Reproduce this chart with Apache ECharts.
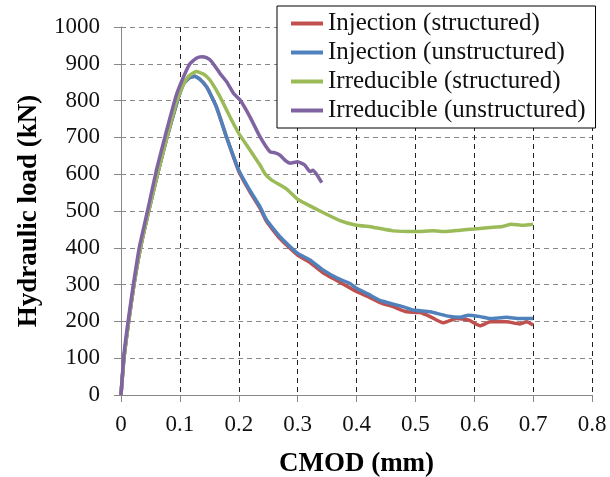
<!DOCTYPE html>
<html>
<head>
<meta charset="utf-8">
<script src="https://cdn.jsdelivr.net/npm/echarts@6/dist/echarts.min.js"></script>
<style>
html,body{margin:0;padding:0;background:#fff;}
#chart{width:610px;height:477px;}
</style>
</head>
<body>
<div id="chart"></div>
<script>
const seriesNames = ['Injection (structured)', 'Injection (unstructured)', 'Irreducible (structured)', 'Irreducible (unstructured)'];
const xTicks = [0, 0.1, 0.2, 0.3, 0.4, 0.5, 0.6, 0.7, 0.8];
const yTicks = [0, 100, 200, 300, 400, 500, 600, 700, 800, 900, 1000];

const injStructured = [[0,0],[0.005,100],[0.013,200],[0.022,300],[0.033,400],[0.047,500],[0.062,600],[0.078,700],[0.096,800],[0.106,845],[0.116,862],[0.125,866],[0.134,858],[0.146,836],[0.162,783],[0.179,702],[0.2,608],[0.219,552],[0.236,508],[0.247,472],[0.27,425],[0.3,380],[0.321,360],[0.343,332],[0.368,310],[0.398,283],[0.42,267],[0.44,251],[0.462,240],[0.485,226],[0.508,224],[0.525,213],[0.547,196],[0.57,208],[0.59,204],[0.61,188],[0.627,199],[0.655,199],[0.677,193],[0.689,199],[0.7,190]];
const injUnstructured = [[0,0],[0.005,100],[0.013,200],[0.022,300],[0.033,400],[0.047,500],[0.062,600],[0.078,700],[0.096,800],[0.106,845],[0.116,862],[0.125,866],[0.134,858],[0.146,836],[0.162,783],[0.179,702],[0.2,611],[0.219,556],[0.236,512],[0.247,476],[0.27,430],[0.3,385],[0.321,367],[0.343,340],[0.368,317],[0.389,303],[0.4,290],[0.42,274],[0.44,257],[0.462,247],[0.479,240],[0.496,231],[0.525,226],[0.553,215],[0.576,211],[0.59,217],[0.61,213],[0.627,208],[0.655,211],[0.677,208],[0.7,208]];
const irrStructured = [[0,0],[0.005,100],[0.013,200],[0.022,300],[0.033,400],[0.047,500],[0.062,600],[0.078,700],[0.095,800],[0.105,840],[0.115,866],[0.128,879],[0.14,872],[0.151,856],[0.168,811],[0.185,756],[0.2,711],[0.219,666],[0.236,625],[0.245,600],[0.256,584],[0.281,560],[0.3,532],[0.338,500],[0.372,474],[0.398,462],[0.428,456],[0.462,446],[0.5,444],[0.53,446],[0.551,444],[0.576,448],[0.6,451],[0.627,455],[0.648,458],[0.663,464],[0.683,461],[0.7,464]];
const irrUnstructured = [[0,0],[0.005,110],[0.012,200],[0.021,300],[0.031,400],[0.045,500],[0.06,610],[0.076,710],[0.093,810],[0.105,860],[0.117,900],[0.128,915],[0.137,919],[0.146,916],[0.154,906],[0.168,874],[0.18,850],[0.191,820],[0.202,802],[0.219,756],[0.236,702],[0.253,661],[0.262,658],[0.27,652],[0.28,636],[0.287,630],[0.3,634],[0.312,625],[0.321,607],[0.326,611],[0.333,598],[0.341,577]];

const colors = ['#C0504D', '#4F81BD', '#9BBB59', '#8064A2'];
const dataSets = [injStructured, injUnstructured, irrStructured, irrUnstructured];

const chart = echarts.init(document.getElementById('chart'));
const serif = '"Liberation Serif", "Times New Roman", serif';
chart.setOption({
  animation: false,
  backgroundColor: '#fff',
  grid: {left: 121, right: 18, top: 27, bottom: 82, containLabel: false, outerBoundsMode: 'none'},
  legend: {
    orient: 'vertical',
    left: 277, top: 6,
    padding: [5, 10, 5, 14],
    itemGap: 4,
    itemWidth: 32, itemHeight: 4,
    icon: 'rect',
    borderColor: '#000', borderWidth: 1,
    backgroundColor: '#fff',
    textStyle: {fontFamily: serif, fontSize: 25, color: '#111', lineHeight: 25},
    data: seriesNames
  },
  xAxis: {
    type: 'value', min: xTicks[0], max: xTicks[xTicks.length-1], interval: 0.1,
    name: 'CMOD (mm)', nameLocation: 'middle', nameGap: 56,
    nameTextStyle: {fontFamily: serif, fontSize: 27, fontWeight: 'bold', color: '#000'},
    axisLine: {lineStyle: {color: '#888', width: 1}},
    axisTick: {show: true, inside: false, length: 7, lineStyle: {color: '#888'}},
    axisLabel: {fontFamily: serif, fontSize: 23, color: '#111', margin: 18, formatter: v => String(+v.toFixed(1))},
    splitLine: {show: true, lineStyle: {color: '#222', type: [5, 4], width: 1}}
  },
  yAxis: {
    type: 'value', min: yTicks[0], max: yTicks[yTicks.length-1], interval: 100,
    name: 'Hydraulic load (kN)', nameLocation: 'middle', nameGap: 78,
    nameTextStyle: {fontFamily: serif, fontSize: 27, fontWeight: 'bold', color: '#000'},
    axisLine: {show: true, lineStyle: {color: '#888', width: 1}},
    axisTick: {show: true, inside: false, length: 7, lineStyle: {color: '#888'}},
    axisLabel: {fontFamily: serif, fontSize: 23, color: '#111', margin: 21, formatter: v => String(v)},
    splitLine: {show: true, lineStyle: {color: '#888', type: [5, 4], width: 1}}
  },
  series: seriesNames.map((n, i) => ({
    name: n, type: 'line', data: dataSets[i], showSymbol: false, symbol: 'none',
    smooth: 0.15, color: colors[i],
    lineStyle: {width: 3.5, color: colors[i]}, z: 2 + i
  }))
});
</script>
</body>
</html>
